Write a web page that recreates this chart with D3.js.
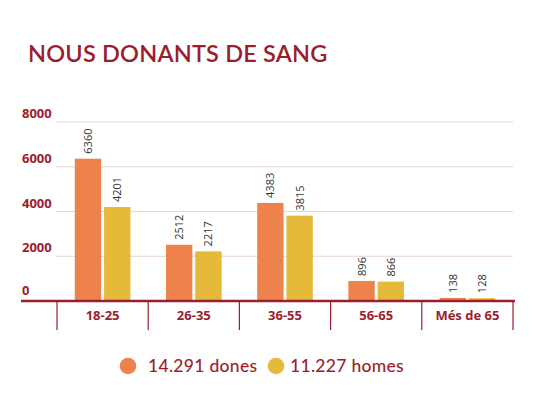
<!DOCTYPE html>
<html lang="ca">
<head>
<meta charset="UTF-8">
<title>Nous donants de sang</title>
<style>
  *{margin:0;padding:0;}
  body{background:#fff;}
  svg{display:block;}
</style>
</head>
<body>
<div id="chart"></div>
<script src="https://cdn.jsdelivr.net/npm/d3@7"></script>
<script>
var categories = ['18-25', '26-35', '36-55', '56-65', 'Més de 65']
var dones = [6360, 2512, 4383, 896, 138]
var homes = [4201, 2217, 3815, 866, 128]
var yTicks = [0, 2000, 4000, 6000, 8000]
var seriesNames = ['14.291 dones', '11.227 homes']

var W = 537, H = 395
var red = '#9c1d2b', cOrange = '#ee824c', cYellow = '#e5b93a'
var x0 = 57, x1 = 513, yBase = 301, yTop = 122

var svg = d3.select('#chart').append('svg').attr('width', W).attr('height', H)

svg.append('text')
  .attr('x', 28).attr('y', 62)
  .attr('fill', red)
  .style('font-family', 'Lato, sans-serif')
  .style('font-size', '23.5px')
  .style('font-weight', 600)
  .style('letter-spacing', '0.2px')
  .text('NOUS DONANTS DE SANG')

var y = d3.scaleLinear().domain([0, 8000]).range([yBase, yTop])
var x = d3.scaleBand().domain(categories).range([x0, x1]).paddingInner(0.39).paddingOuter(0.195)
var xs = d3.scaleBand().domain([0, 1]).range([0, x.bandwidth()]).paddingInner(0.1)

// gridlines
svg.append('g').selectAll('line').data(yTicks.filter(function (d) { return d > 0 }))
  .enter().append('line')
  .attr('x1', 56).attr('x2', x1)
  .attr('y1', function (d) { return y(d) }).attr('y2', function (d) { return y(d) })
  .attr('stroke', '#e6d3d5').attr('stroke-width', 1)

// y labels
svg.append('g').selectAll('text').data(yTicks)
  .enter().append('text')
  .attr('x', 22).attr('y', function (d) { return y(d) - (d === 0 ? 6 : 4) })
  .attr('fill', red)
  .style('font-family', '"Open Sans", sans-serif')
  .style('font-size', '13px').style('font-weight', 700)
  .text(function (d) { return d })

// bars
var groups = svg.append('g').selectAll('g').data(categories)
  .enter().append('g')
  .attr('transform', function (d) { return 'translate(' + x(d) + ',0)' })

groups.each(function (c, i) {
  var g = d3.select(this)
  var vals = [dones[i], homes[i]]
  vals.forEach(function (v, j) {
    g.append('rect')
      .attr('x', xs(j)).attr('width', xs.bandwidth())
      .attr('y', y(v)).attr('height', yBase - y(v))
      .attr('fill', j === 0 ? cOrange : cYellow)
    var cx = xs(j) + xs.bandwidth() / 2
    g.append('text')
      .attr('transform', 'translate(' + (cx + 4) + ',' + (y(v) - 5) + ') rotate(-90)')
      .attr('fill', '#333')
      .style('font-family', '"Open Sans", sans-serif')
      .style('font-size', '11px')
      .text(v)
  })
})

// x axis
var xa = svg.append('g')
xa.append('line').attr('x1', 21).attr('x2', 515).attr('y1', yBase).attr('y2', yBase)
  .attr('stroke', red).attr('stroke-width', 2.5)
var seps = categories.map(function (c) { return x(c) - x.step() * x.paddingInner() / 2 })
seps.push(x1)
xa.selectAll('line.sep').data(seps).enter().append('line')
  .attr('class', 'sep')
  .attr('x1', function (d) { return d }).attr('x2', function (d) { return d })
  .attr('y1', yBase).attr('y2', 330)
  .attr('stroke', red).attr('stroke-width', 1.2)
xa.selectAll('text').data(categories).enter().append('text')
  .attr('x', function (d) { return x(d) + x.bandwidth() / 2 })
  .attr('y', 320)
  .attr('text-anchor', 'middle')
  .attr('fill', red)
  .style('font-family', '"Open Sans", sans-serif')
  .style('font-size', '13px').style('font-weight', 700)
  .text(function (d) { return d })

// legend
var legendCircleX = [128, 276]
var legendTextX = [148, 290]
var lg = svg.append('g').selectAll('g').data(seriesNames).enter().append('g')
lg.append('circle').attr('r', 8.3)
  .attr('cx', function (d, i) { return legendCircleX[i] }).attr('cy', 366)
  .attr('fill', function (d, i) { return i === 0 ? cOrange : cYellow })
lg.append('text')
  .attr('x', function (d, i) { return legendTextX[i] }).attr('y', 372)
  .attr('fill', red)
  .style('font-family', 'Lato, sans-serif')
  .style('font-size', '17.5px').style('font-weight', 500)
  .style('letter-spacing', '0.3px')
  .text(function (d) { return d })
</script>
</body>
</html>
